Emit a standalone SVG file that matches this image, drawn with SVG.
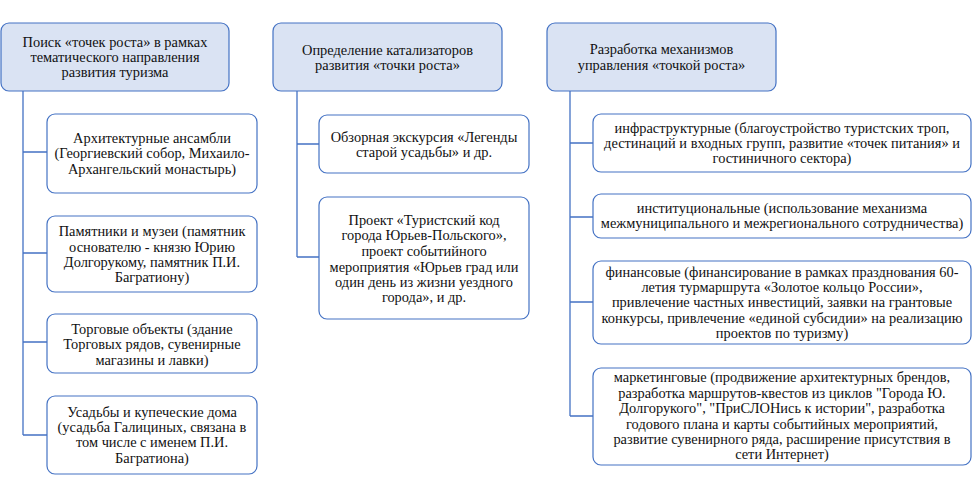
<svg xmlns="http://www.w3.org/2000/svg" width="976" height="495" viewBox="0 0 976 495">
<style>
.hdr{fill:#dae3f3;stroke:#4472c4;stroke-width:1.2}
.box{fill:#ffffff;stroke:#4472c4;stroke-width:1.2}
.ln{fill:none;stroke:#4472c4;stroke-width:1.3}
text{font-family:'Liberation Serif',serif;font-size:14.4px;fill:#111111;text-anchor:middle}
</style>
<rect width="976" height="495" fill="#ffffff"/>
<g id="connectors">
<path class="ln" d="M23 91V435M23 152H47M23 253H47M23 342H47M23 435H47"/>
<path class="ln" d="M297 91V257M297 144H319M297 257H319"/>
<path class="ln" d="M570 91V416M570 143H593M570 217H593M570 302H593M570 416H593"/>
</g>
<g id="h1"><rect class="hdr" x="1" y="23" width="228" height="68" rx="8"/>
<text x="115" y="47">Поиск «точек роста» в рамках</text>
<text x="115" y="62">тематического направления</text>
<text x="115" y="77">развития туризма</text></g>
<g id="h2"><rect class="hdr" x="273" y="23" width="229" height="68" rx="8"/>
<text x="387.5" y="55">Определение катализаторов</text>
<text x="387.5" y="70">развития «точки роста»</text></g>
<g id="h3"><rect class="hdr" x="547" y="23" width="229" height="68" rx="8"/>
<text x="661.5" y="54">Разработка механизмов</text>
<text x="661.5" y="70">управления «точкой роста»</text></g>
<g id="a1"><rect class="box" x="47" y="114" width="210" height="79" rx="8"/>
<text x="152" y="143">Архитектурные ансамбли</text>
<text x="152" y="158">(Георгиевский собор, Михаило-</text>
<text x="152" y="174">Архангельский монастырь)</text></g>
<g id="a2"><rect class="box" x="47" y="216" width="210" height="76" rx="8"/>
<text x="152" y="236">Памятники и музеи (памятник</text>
<text x="152" y="252">основателю - князю Юрию</text>
<text x="152" y="267">Долгорукому, памятник П.И.</text>
<text x="152" y="282">Багратиону)</text></g>
<g id="a3"><rect class="box" x="47" y="314" width="210" height="59" rx="8"/>
<text x="152" y="334">Торговые объекты (здание</text>
<text x="152" y="349">Торговых рядов, сувенирные</text>
<text x="152" y="365">магазины и лавки)</text></g>
<g id="a4"><rect class="box" x="47" y="396" width="210" height="78" rx="8"/>
<text x="152" y="417">Усадьбы и купеческие дома</text>
<text x="152" y="432">(усадьба Галициных, связана в</text>
<text x="152" y="447">том числе с именем П.И.</text>
<text x="152" y="463">Багратиона)</text></g>
<g id="b1"><rect class="box" x="319" y="115" width="210" height="58" rx="8"/>
<text x="424" y="142">Обзорная экскурсия «Легенды</text>
<text x="424" y="157">старой усадьбы» и др.</text></g>
<g id="b2"><rect class="box" x="319" y="197" width="210" height="122" rx="8"/>
<text x="424" y="225">Проект «Туристский код</text>
<text x="424" y="240">города Юрьев-Польского»,</text>
<text x="424" y="256">проект событийного</text>
<text x="424" y="272">мероприятия «Юрьев град или</text>
<text x="424" y="287">один день из жизни уездного</text>
<text x="424" y="302">города», и др.</text></g>
<g id="c1"><rect class="box" x="593" y="114" width="378" height="58" rx="8"/>
<text x="782" y="133">инфраструктурные (благоустройство туристских троп,</text>
<text x="782" y="148">дестинаций и входных групп, развитие «точек питания» и</text>
<text x="782" y="163">гостиничного сектора)</text></g>
<g id="c2"><rect class="box" x="593" y="194" width="378" height="44" rx="8"/>
<text x="782" y="213">институциональные (использование механизма</text>
<text x="782" y="228">межмуниципального и межрегионального сотрудничества)</text></g>
<g id="c3"><rect class="box" x="593" y="261" width="378" height="83" rx="8"/>
<text x="782" y="277">финансовые (финансирование в рамках празднования 60-</text>
<text x="782" y="292">летия турмаршрута «Золотое кольцо России»,</text>
<text x="782" y="307">привлечение частных инвестиций, заявки на грантовые</text>
<text x="782" y="323">конкурсы, привлечение «единой субсидии» на реализацию</text>
<text x="782" y="338">проектов по туризму)</text></g>
<g id="c4"><rect class="box" x="593" y="368" width="378" height="97" rx="8"/>
<text x="782" y="382">маркетинговые (продвижение архитектурных брендов,</text>
<text x="782" y="398">разработка маршрутов-квестов из циклов "Города Ю.</text>
<text x="782" y="413">Долгорукого", "ПриСЛОНись к истории", разработка</text>
<text x="782" y="429">годового плана и карты событийных мероприятий,</text>
<text x="782" y="444">развитие сувенирного ряда, расширение присутствия в</text>
<text x="782" y="459">сети Интернет)</text></g>
</svg>
